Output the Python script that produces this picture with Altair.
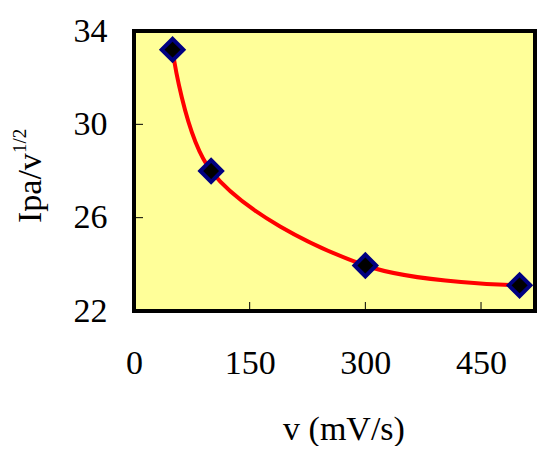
import altair as alt
import pandas as pd

# data
scan_rate = [50, 100, 300, 500]          # v (mV/s)
ipa_ratio = [33.2, 28.0, 23.95, 23.1]    # Ipa / v^1/2
x_ticks = [0, 150, 300, 450]
y_ticks = [22, 26, 30, 34]
x_inner_ticks = [150, 300, 450]
y_inner_ticks = [26, 30]

FONT = "Liberation Serif"
W, H = 401, 280

df = pd.DataFrame({"v": scan_rate, "r": ipa_ratio})
xscale = alt.Scale(domain=[0, 520], nice=False, zero=False)
yscale = alt.Scale(domain=[22, 34], nice=False, zero=False)

xaxis = alt.Axis(values=x_ticks, ticks=False, domain=False, grid=False,
                 labelFont=FONT, labelFontSize=34, labelColor="black",
                 labelBaseline="alphabetic", labelPadding=62, title="",
                 labelFlush=False)
yaxis = alt.Axis(values=y_ticks, ticks=False, domain=False, grid=False,
                 labelFont=FONT, labelFontSize=34, labelColor="black",
                 labelPadding=27, title="", labelFlush=False)

line = alt.Chart(df).mark_line(color="#ff0000", strokeWidth=4,
                               interpolate="catmull-rom").encode(
    x=alt.X("v:Q", scale=xscale, axis=xaxis),
    y=alt.Y("r:Q", scale=yscale, axis=yaxis),
)

points = alt.Chart(df).mark_point(shape="diamond", filled=True, fill="black",
                                  stroke="#000080", strokeWidth=4,
                                  size=470, opacity=1).encode(
    x=alt.X("v:Q", scale=xscale, axis=xaxis),
    y=alt.Y("r:Q", scale=yscale, axis=yaxis),
)

xt = alt.Chart(pd.DataFrame({"v": x_inner_ticks})).mark_rule(
    color="black", strokeWidth=1).encode(
    x=alt.X("v:Q", scale=xscale, axis=xaxis),
    y=alt.value(H), y2=alt.value(H - 9),
)
yt = alt.Chart(pd.DataFrame({"r": y_inner_ticks})).mark_rule(
    color="black", strokeWidth=1).encode(
    y=alt.Y("r:Q", scale=yscale, axis=yaxis),
    x=alt.value(0), x2=alt.value(9),
)

xtitle = alt.Chart(pd.DataFrame({"t": ["v (mV/s)"]})).mark_text(
    font=FONT, fontSize=34, color="black", align="center",
    baseline="alphabetic").encode(
    text="t:N", x=alt.value(210), y=alt.value(409))

ytitle = alt.Chart(pd.DataFrame({"t": ["Ipa/v"]})).mark_text(
    font=FONT, fontSize=34, color="black", align="left",
    baseline="alphabetic", angle=270).encode(
    text="t:N", x=alt.value(-93), y=alt.value(192))

ysup = alt.Chart(pd.DataFrame({"t": ["1/2"]})).mark_text(
    font=FONT, fontSize=19, color="black", align="left",
    baseline="alphabetic", angle=270).encode(
    text="t:N", x=alt.value(-108), y=alt.value(122))

chart = alt.layer(line, points, xt, yt, xtitle, ytitle, ysup).properties(
    width=W, height=H,
    autosize=alt.AutoSizeParams(type="none"),
    padding={"left": 126, "top": 23, "right": 7, "bottom": 135},
    background="white",
).configure_view(
    fill="#ffff99", stroke="black", strokeWidth=4
)

chart.save("out.html", embed_options={"renderer": "svg", "actions": False})
